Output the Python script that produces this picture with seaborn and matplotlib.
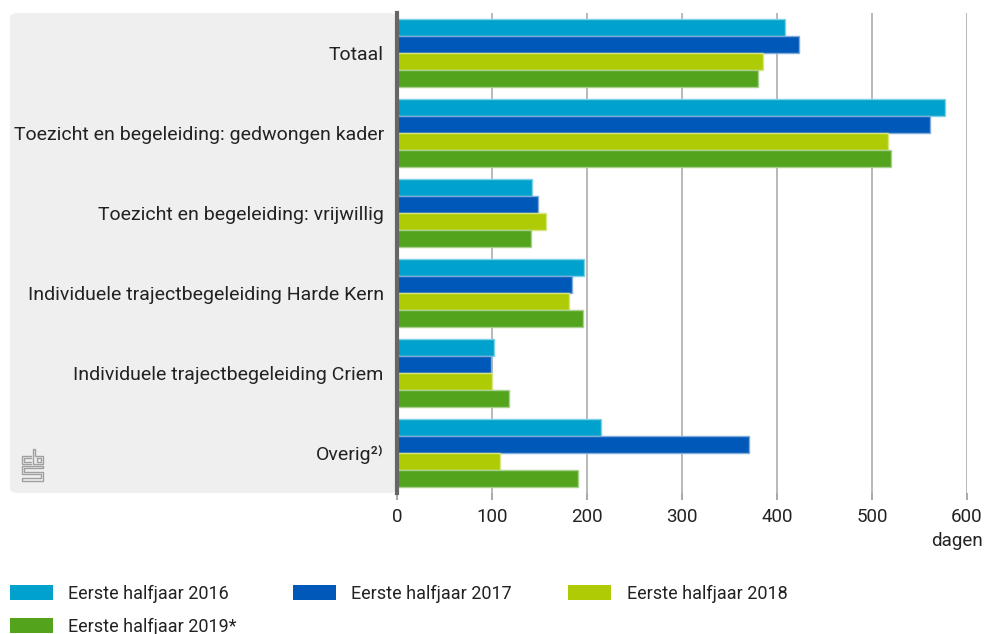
import numpy as np
import pandas as pd
import matplotlib
matplotlib.use('Agg')
from matplotlib import pyplot as plt
from matplotlib.patches import FancyBboxPatch, Patch
from matplotlib.lines import Line2D
import matplotlib.colors as mcolors
import seaborn as sns

categories = ['Totaal',
              'Toezicht en begeleiding: gedwongen kader',
              'Toezicht en begeleiding: vrijwillig',
              'Individuele trajectbegeleiding Harde Kern',
              'Individuele trajectbegeleiding Criem',
              'Overig²⁾']
years = ['Eerste halfjaar 2016', 'Eerste halfjaar 2017',
         'Eerste halfjaar 2018', 'Eerste halfjaar 2019*']
v2016 = [408, 577, 142, 197, 102, 215]
v2017 = [423, 561, 148, 184, 99, 370]
v2018 = [385, 517, 157, 181, 100, 108]
v2019 = [380, 520, 141, 196, 118, 190]
colors = ['#00a1cd', '#0058b8', '#afcb05', '#53a31d']

rows = []
for yr, vals in zip(years, [v2016, v2017, v2018, v2019]):
    for cat, v in zip(categories, vals):
        rows.append({'Categorie': cat, 'Jaar': yr, 'Dagen': v})
df = pd.DataFrame(rows)

sns.set_style('white')
plt.rcParams['font.family'] = ['Roboto', 'DejaVu Sans']
text_color = '#222222'

W, H = 986, 634
fig = plt.figure(figsize=(W / 100, H / 100), dpi=100)
x0, x1 = 397 / W, 967 / W
y0, y1 = 1 - 493 / H, 1 - 13 / H

# grey label panel
panel = FancyBboxPatch((10 / W, y0), x0 - 10 / W, y1 - y0,
                       boxstyle='round,pad=0,rounding_size=0.008',
                       transform=fig.transFigure, facecolor='#efefef',
                       edgecolor='none', zorder=-1)
fig.patches.append(panel)


def logo_line(pts):
    xs = [p[0] / W for p in pts]
    ys = [1 - p[1] / H for p in pts]
    fig.add_artist(Line2D(xs, ys, transform=fig.transFigure, color='#a0a0a0',
                          linewidth=1.0, solid_joinstyle='miter'))


# small cbs logo (rough)
logo_line([(31, 456), (22, 456), (22, 464), (31, 464)])
logo_line([(31, 458), (24, 458), (24, 462), (31, 462)])
logo_line([(33, 464), (33, 449), (35, 449), (35, 456), (43, 456), (43, 464), (33, 464)])
logo_line([(37, 458), (41, 458), (41, 462), (37, 462), (37, 458)])
logo_line([(43, 466), (22, 466), (22, 474), (41, 474), (41, 478), (22, 478), (22, 481), (43, 481),
           (43, 472), (24, 472), (24, 468), (43, 468), (43, 466)])

ax = fig.add_axes([x0, y0, x1 - x0, y1 - y0])
ax.patch.set_alpha(0)
sns.barplot(data=df, y='Categorie', x='Dagen', hue='Jaar', orient='h',
            palette=colors, saturation=1, width=0.84, ax=ax, legend=False,
            zorder=3)

for p in ax.patches:
    fc = np.array(mcolors.to_rgb(p.get_facecolor()))
    p.set_edgecolor(tuple(fc + (1 - fc) * 0.5))
    p.set_linewidth(1.0)

ax.set_xlim(0, 600)
ax.set_xticks(range(0, 601, 100))
ax.grid(axis='x', color='#b3b3b3', linewidth=1.3, zorder=0)
ax.grid(axis='y', visible=False)
ax.set_axisbelow(True)
for s in ['top', 'right', 'bottom']:
    ax.spines[s].set_visible(False)
ax.spines['left'].set_color('#666666')
ax.spines['left'].set_linewidth(3)
ax.spines['left'].set_zorder(5)
ax.set_xlabel('')
ax.set_ylabel('')
ax.tick_params(axis='x', bottom=True, length=5, width=1.2, color='#999999',
               labelsize=13.5, labelcolor=text_color, pad=6)
ax.tick_params(axis='y', left=False, labelsize=14, labelcolor=text_color, pad=6)

fig.text(983 / W, 1 - 541 / H, 'dagen', ha='right', va='center',
         fontsize=13.5, color=text_color)

handles = [Patch(facecolor=c, edgecolor='none') for c in colors]
order = [0, 3, 1, 2]
leg = fig.legend([handles[i] for i in order], [years[i] for i in order],
                 loc='upper left', bbox_to_anchor=(-3 / W, 1 - 572 / H),
                 ncol=3, frameon=False, fontsize=13, handlelength=2.4,
                 handleheight=0.95, handletextpad=0.85, columnspacing=3.1,
                 labelspacing=0.82, borderaxespad=0.3)
for t in leg.get_texts():
    t.set_color(text_color)

fig.savefig('out.png', dpi=100)
